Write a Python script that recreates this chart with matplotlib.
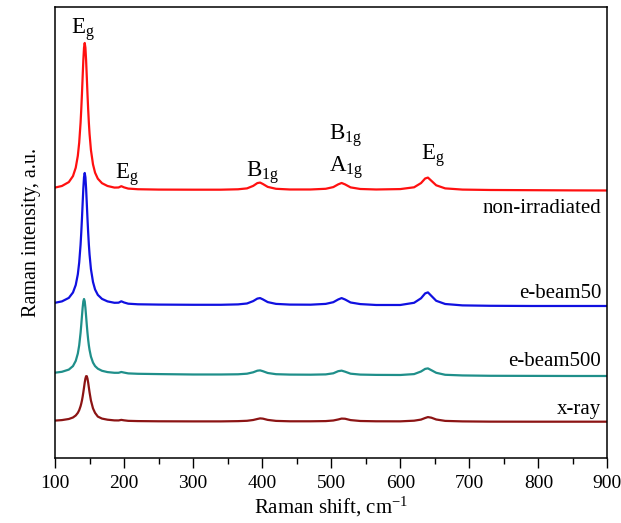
import numpy as np
import matplotlib
matplotlib.use("Agg")
import matplotlib.pyplot as plt
from matplotlib.ticker import MultipleLocator, NullLocator

plt.rcParams['font.family'] = ['Liberation Serif', 'DejaVu Serif']
plt.rcParams['mathtext.fontset'] = 'custom'
plt.rcParams['mathtext.rm'] = 'Liberation Serif'
plt.rcParams['mathtext.it'] = 'Liberation Serif:italic'

# Raman shift, cm^-1 (shared by all spectra)
shift = [100, 110, 120, 126, 130, 133, 135, 137, 138, 139, 140, 141, 142, 143, 144,
         145, 146, 147, 148, 149, 150, 152, 155, 158, 162, 168, 176, 186,
         192, 196, 200, 206, 220, 250, 300, 340, 365, 378, 387, 393, 397, 401,
         408, 420, 440, 470, 492, 503, 510, 515, 520, 528, 542, 565, 600, 620,
         630, 636, 640, 645, 652, 665, 690, 730, 790, 850, 900]

# intensities (a.u., already stacked with offsets)
non_irradiated = [274.4, 276.0, 279.9, 285.9, 294.3, 306.1, 319.2, 339.2, 352.6, 368.1, 385.3,
                  401.8, 414.3, 419.0, 414.3, 401.8, 385.3, 368.1, 352.6, 339.2, 328.2, 312.0,
                  297.6, 289.3, 283.3, 278.8, 276.0, 274.4,
                  274.5, 275.8, 274.6, 273.4, 272.75, 272.4, 272.3, 272.3, 272.7, 273.6, 276.1,
                  278.9, 279.4, 278.0, 275.1, 273.2, 272.5, 272.5, 273.2, 274.9, 277.6, 279.0,
                  277.6, 274.6, 273.0, 272.5, 272.9, 274.7, 278.9, 283.5, 284.4, 281.2, 276.7,
                  273.6, 272.4, 272.0, 271.8, 271.6, 271.5]
ebeam50 = [159.2, 160.6, 164.1, 169.5, 177.0, 187.6, 199.4, 217.3, 229.4, 243.3, 258.7,
           273.6, 284.8, 289.0, 284.8, 273.6, 258.7, 243.3, 229.4, 217.3, 207.5, 192.9,
           180.0, 172.5, 167.1, 163.1, 160.6, 159.2,
           159.3, 160.7, 159.5, 158.3, 157.7, 157.4, 157.2, 157.2, 157.6, 158.5, 160.9,
           163.4, 163.9, 162.6, 159.9, 158.1, 157.4, 157.3, 158.1, 159.8, 162.5, 163.9,
           162.5, 159.5, 157.9, 157.0, 157.0, 159.2, 163.7, 168.6, 169.6, 166.1, 161.2,
           158.0, 156.6, 156.2, 156.0, 156.0, 156.0]
ebeam500 = [89.3, 90.2, 92.4, 95.9, 101.1, 108.4, 116.6, 129.1, 137.1, 145.8, 154.2,
            160.6, 163.0, 160.6, 154.2, 145.8, 137.1, 129.1, 122.3, 116.6, 112.1, 105.4,
            99.4, 95.9, 93.3, 91.2, 89.9, 89.2,
            89.2, 90.0, 89.4, 88.6, 88.2, 87.9, 87.5, 87.5, 87.7, 88.3, 89.7,
            91.3, 91.6, 90.8, 89.0, 87.8, 87.4, 87.3, 87.6, 88.7, 90.8, 91.35,
            90.3, 88.3, 87.4, 87.1, 87.0, 87.9, 90.5, 93.1, 93.6, 91.8, 89.2,
            87.2, 86.55, 86.2, 86.1, 86.0, 86.0]
xray = [41.4, 41.9, 43.0, 44.5, 46.5, 49.1, 51.8, 55.8, 58.4, 61.5, 65.3,
        69.7, 74.5, 79.4, 83.4, 85.8, 85.8, 83.4, 79.4, 74.5, 69.7, 61.5,
        53.6, 49.1, 45.4, 43.4, 42.3, 41.6,
        41.55, 42.1, 41.65, 41.15, 40.9, 40.7, 40.6, 40.6, 40.85, 41.2, 42.0,
        43.0, 43.6, 43.35, 42.1, 41.1, 40.7, 40.7, 40.9, 41.5, 42.5, 43.4,
        43.25, 41.9, 41.0, 40.7, 40.65, 41.3, 42.4, 44.0, 44.9, 44.3, 42.5,
        41.1, 40.6, 40.35, 40.3, 40.3, 40.3]

names = ['non-irradiated', 'e-beam50', 'e-beam500', 'x-ray']
colors = ['#ff1010', '#1010e0', '#1f8f8a', '#8c1414']
name_y = [253.7, 168, 100.3, 52]

# peak assignments: (label, x, y)
peaks = [(r'E$_\mathrm{g}$', 141, 428.7),
         (r'E$_\mathrm{g}$', 204, 283.7),
         (r'B$_\mathrm{1g}$', 401, 285),
         (r'B$_\mathrm{1g}$', 521, 322),
         (r'A$_\mathrm{1g}$', 521, 290.3),
         (r'E$_\mathrm{g}$', 647, 302)]

fig = plt.figure(figsize=(6.21, 5.23), dpi=100)
ax = fig.add_axes([0.0886, 0.1243, 0.8896, 0.8614])

for ys, c in zip([non_irradiated, ebeam50, ebeam500, xray], colors):
    ax.plot(shift, ys, color=c, lw=1.6)

for n, y in zip(names, name_y):
    ax.text(891, y, n, ha='right', va='center', fontsize=15)

for lab, x, y in peaks:
    ax.text(x, y, lab, ha='center', va='baseline', fontsize=16.5)

ax.set_xlim(100, 900)
ax.set_ylim(4, 454.5)
ax.xaxis.set_major_locator(MultipleLocator(100))
ax.xaxis.set_minor_locator(MultipleLocator(50))
ax.yaxis.set_major_locator(NullLocator())
ax.tick_params(axis='x', which='major', direction='out', length=7, width=1,
               labelsize=14, pad=5)
ax.tick_params(axis='x', which='minor', direction='out', length=4, width=1)
for s in ax.spines.values():
    s.set_linewidth(1.1)

ax.set_xlabel(r'Raman shift, cm$^{-1}$', fontsize=15, labelpad=2)
ax.set_ylabel('Raman intensity, a.u.', fontsize=14.5, labelpad=10)

plt.savefig('out.png', dpi=100)
